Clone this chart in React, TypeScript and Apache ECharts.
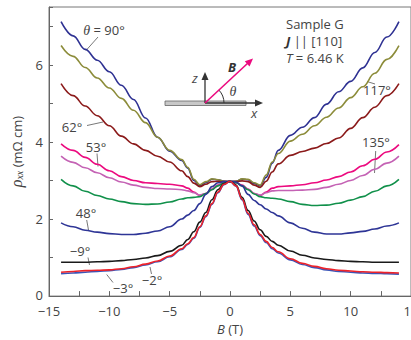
import React, { useEffect, useRef } from "react";
import * as echarts from "echarts";

// Magnetic field B (T)
const B = [-14, -13, -12, -11, -10, -9, -8, -7, -6, -5, -4, -3.5, -3, -2.5, -2, -1.5, -1, -0.5, 0, 0.5, 1, 1.5, 2, 2.5, 3, 3.5, 4, 5, 6, 7, 8, 9, 10, 11, 12, 13, 14];

// rho_xx (mOhm cm) for each angle
const rho90 = [7.12, 6.75, 6.40, 6.12, 5.82, 5.47, 5.10, 4.62, 4.12, 3.76, 3.52, 3.32, 3.00, 2.86, 2.94, 3.03, 3.02, 2.98, 2.97, 2.98, 3.03, 3.02, 2.92, 2.86, 3.08, 3.45, 3.78, 4.17, 4.38, 4.63, 4.98, 5.30, 5.57, 5.92, 6.32, 6.72, 7.12];
const rho117 = [6.50, 6.22, 5.93, 5.66, 5.40, 5.13, 4.82, 4.50, 4.12, 3.78, 3.54, 3.34, 3.03, 2.89, 2.97, 3.04, 3.02, 2.98, 2.97, 2.98, 3.04, 3.03, 2.94, 2.88, 3.14, 3.48, 3.70, 4.02, 4.20, 4.42, 4.64, 4.88, 5.15, 5.43, 5.78, 6.14, 6.50];
const rho62 = [5.51, 5.20, 4.93, 4.68, 4.42, 4.15, 3.95, 3.78, 3.63, 3.48, 3.25, 3.10, 2.93, 2.84, 2.90, 2.97, 2.98, 2.97, 2.97, 2.97, 2.99, 2.97, 2.88, 2.82, 2.98, 3.22, 3.43, 3.65, 3.75, 3.84, 3.96, 4.10, 4.35, 4.63, 4.90, 5.20, 5.51];
const rho53 = [3.95, 3.78, 3.60, 3.42, 3.25, 3.10, 3.00, 2.94, 2.92, 2.90, 2.86, 2.80, 2.70, 2.61, 2.66, 2.78, 2.88, 2.94, 2.97, 2.94, 2.88, 2.78, 2.66, 2.61, 2.70, 2.80, 2.84, 2.86, 2.89, 2.94, 3.01, 3.10, 3.22, 3.38, 3.55, 3.74, 3.93];
const rho135 = [3.63, 3.47, 3.33, 3.20, 3.07, 2.96, 2.88, 2.82, 2.79, 2.78, 2.76, 2.73, 2.68, 2.62, 2.66, 2.77, 2.87, 2.94, 2.97, 2.94, 2.87, 2.77, 2.66, 2.62, 2.68, 2.73, 2.74, 2.74, 2.75, 2.77, 2.82, 2.90, 3.00, 3.13, 3.29, 3.45, 3.63];
const rhoGreen = [3.03, 2.86, 2.72, 2.61, 2.52, 2.45, 2.40, 2.38, 2.39, 2.44, 2.52, 2.55, 2.56, 2.58, 2.66, 2.76, 2.86, 2.94, 2.97, 2.94, 2.86, 2.76, 2.65, 2.58, 2.55, 2.54, 2.52, 2.45, 2.38, 2.35, 2.36, 2.41, 2.49, 2.58, 2.72, 2.86, 3.03];
const rho48 = [1.90, 1.80, 1.71, 1.66, 1.62, 1.60, 1.60, 1.63, 1.69, 1.80, 2.00, 2.10, 2.22, 2.40, 2.64, 2.84, 2.94, 2.97, 2.98, 2.96, 2.86, 2.64, 2.48, 2.37, 2.26, 2.17, 2.08, 1.90, 1.76, 1.66, 1.61, 1.61, 1.64, 1.68, 1.74, 1.82, 1.90];
const rhoM9 = [0.88, 0.88, 0.88, 0.89, 0.90, 0.92, 0.95, 0.99, 1.05, 1.16, 1.32, 1.47, 1.67, 1.92, 2.17, 2.50, 2.76, 2.92, 2.98, 2.88, 2.56, 2.22, 1.95, 1.72, 1.55, 1.42, 1.32, 1.17, 1.06, 0.99, 0.95, 0.92, 0.90, 0.89, 0.88, 0.88, 0.88];
const rhoM3 = [0.58, 0.60, 0.62, 0.64, 0.66, 0.69, 0.74, 0.81, 0.89, 1.02, 1.21, 1.34, 1.50, 1.78, 2.06, 2.38, 2.68, 2.89, 2.98, 2.85, 2.50, 2.12, 1.82, 1.57, 1.39, 1.23, 1.12, 0.94, 0.82, 0.74, 0.68, 0.64, 0.62, 0.60, 0.59, 0.58, 0.57];
const rhoM2 = [0.62, 0.64, 0.66, 0.67, 0.68, 0.71, 0.76, 0.83, 0.91, 1.04, 1.23, 1.36, 1.52, 1.80, 2.08, 2.40, 2.70, 2.90, 2.98, 2.86, 2.52, 2.15, 1.85, 1.60, 1.42, 1.26, 1.15, 0.97, 0.85, 0.77, 0.71, 0.67, 0.65, 0.63, 0.62, 0.61, 0.60];

const seriesNames = ["90°", "117°", "62°", "53°", "135°", "green", "48°", "−9°", "−3°", "−2°"];
const seriesValues = [rho90, rho117, rho62, rho53, rho135, rhoGreen, rho48, rhoM9, rhoM3, rhoM2];
const seriesColors = ["#2e3192", "#8c8c3a", "#8b1a1a", "#ec0a7f", "#c462b4", "#10904a", "#2e3596", "#1a1a1a", "#3b55b8", "#ee2229"];

const xTicks = [-15, -10, -5, 0, 5, 10, 15];
const yTickLabels = ["0", "2", "4", "6"];

const SANS = "'Open Sans', 'Noto Sans', sans-serif";
const SERIF = "'Liberation Serif', 'DejaVu Serif', serif";
const TXT = "#444";
const LINE = "#555";

function label(text: string, x: number, y: number, align = "center", rich?: any) {
  return {
    type: "text",
    x,
    y,
    silent: true,
    style: {
      text,
      fill: TXT,
      fontSize: 13,
      fontFamily: SANS,
      align,
      verticalAlign: "middle",
      rich,
    },
  };
}

function leader(x1: number, y1: number, x2: number, y2: number, color = LINE, lw = 0.8) {
  return {
    type: "line",
    silent: true,
    shape: { x1, y1, x2, y2 },
    style: { stroke: color, lineWidth: lw },
  };
}

function arrowHead(tipX: number, tipY: number, fromX: number, fromY: number, color: string, len = 8, half = 3.5) {
  const dx = tipX - fromX;
  const dy = tipY - fromY;
  const l = Math.hypot(dx, dy);
  const ux = dx / l;
  const uy = dy / l;
  const bx = tipX - ux * len;
  const by = tipY - uy * len;
  const px = -uy * half;
  const py = ux * half;
  return {
    type: "polygon",
    silent: true,
    shape: { points: [[tipX, tipY], [bx + px, by + py], [bx - px, by - py]] },
    style: { fill: color },
  };
}

export default function App() {
  const ref = useRef<HTMLDivElement>(null);

  useEffect(() => {
    const chart = echarts.init(ref.current!, null, { renderer: "svg" });

    const series = seriesNames.map((name, i) => ({
      name,
      type: "line",
      data: B.map((b, j) => [b, seriesValues[i][j]]),
      showSymbol: false,
      smooth: 0.4,
      smoothMonotone: "x",
      lineStyle: { color: seriesColors[i], width: 1.6 },
      itemStyle: { color: seriesColors[i] },
      z: 2 + i,
    }));

    const italicSerif = { fontStyle: "italic", fontFamily: SERIF, fontSize: 14, fill: TXT, color: TXT };

    const graphic: any[] = [
      // inset sketch
      {
        type: "rect",
        silent: true,
        shape: { x: 165, y: 101, width: 81, height: 4.5 },
        style: { fill: "#c8c8c8", stroke: "#666", lineWidth: 0.8 },
      },
      leader(205, 103, 205, 80, "#333", 1.3),
      arrowHead(205, 72, 205, 103, "#333"),
      leader(205, 103, 255, 103, "#333", 1.3),
      arrowHead(263, 103, 205, 103, "#333"),
      {
        type: "arc",
        silent: true,
        shape: { cx: 205, cy: 103, r: 19, startAngle: -0.75, endAngle: 0, clockwise: true },
        style: { stroke: "#333", lineWidth: 1, fill: "none" },
      },
      leader(205, 103, 248, 63, "#ec0a7f", 1.6),
      arrowHead(253, 58.5, 205, 103, "#ec0a7f"),
      {
        type: "text", x: 195, y: 78, silent: true,
        style: { text: "z", fill: TXT, fontSize: 13, fontFamily: SANS, fontStyle: "italic", align: "center", verticalAlign: "middle" },
      },
      {
        type: "text", x: 254, y: 113, silent: true,
        style: { text: "x", fill: TXT, fontSize: 13, fontFamily: SANS, fontStyle: "italic", align: "center", verticalAlign: "middle" },
      },
      {
        type: "text", x: 232, y: 67, silent: true,
        style: { text: "B", fill: "#333", fontSize: 13, fontFamily: SANS, fontStyle: "italic", fontWeight: "bold", align: "center", verticalAlign: "middle" },
      },
      {
        type: "text", x: 233, y: 91, silent: true,
        style: { text: "θ", fill: TXT, fontSize: 14, fontFamily: SERIF, fontStyle: "italic", align: "center", verticalAlign: "middle" },
      },

      // sample info
      label("Sample G", 286, 24, "left"),
      label("{j|J} || [110]", 286, 41, "left", {
        j: { fontStyle: "italic", fontWeight: "bold", fontFamily: SANS, fontSize: 13, fill: "#333", color: "#333" },
      }),
      label("{t|T} = 6.46 K", 286, 58, "left", {
        t: { fontStyle: "italic", fontFamily: SANS, fontSize: 13, fill: TXT, color: TXT },
      }),

      // curve annotations
      label("{t|θ} = 90°", 104, 30, "center", { t: italicSerif }),
      leader(98, 37, 86, 50.5),
      label("62°", 72, 127),
      leader(87, 125.5, 103, 122),
      label("53°", 96, 147),
      leader(97, 153.5, 98, 166.5),
      label("48°", 86, 213),
      leader(86.7, 220, 88.5, 230),
      label("−9°", 80, 251),
      leader(88, 257.5, 89.5, 265),
      label("−3°", 123, 288),
      leader(106.7, 274.5, 113, 282.5),
      label("−2°", 152, 280),
      leader(150, 267, 151.5, 274),
      label("117°", 377, 90),
      leader(367, 81.5, 375, 84),
      label("135°", 376, 142),
      leader(375.7, 151, 374.5, 173),
    ];

    const option: any = {
      animation: false,
      backgroundColor: "#fff",
      grid: {
        left: 49,
        top: 7,
        right: 19,
        bottom: 40,
        show: true,
        borderColor: "#777",
        borderWidth: 1,
        backgroundColor: "transparent",
      },
      xAxis: {
        type: "value",
        min: xTicks[0],
        max: xTicks[xTicks.length - 1],
        interval: 5,
        name: "{b|B} (T)",
        nameLocation: "middle",
        nameGap: 25,
        nameTextStyle: {
          color: TXT,
          fontSize: 13,
          fontFamily: SANS,
          rich: { b: { fontStyle: "italic", fontSize: 13, fontFamily: SANS, color: TXT } },
        },
        axisLine: { show: true, onZero: false, lineStyle: { color: "#666", width: 1 } },
        axisTick: { show: true, inside: true, length: 5, lineStyle: { color: "#666" } },
        minorTick: { show: true, splitNumber: 2, length: 5, lineStyle: { color: "#666" } },
        splitLine: { show: false },
        axisLabel: {
          color: TXT,
          fontSize: 13,
          fontFamily: SANS,
          margin: 8,
          formatter: (v: number) => (v < 0 ? "−" + Math.abs(v) : String(v)),
        },
      },
      yAxis: {
        type: "value",
        min: 0,
        max: 7.5,
        interval: 1,
        name: "{r|ρ}{s|xx} (mΩ cm)",
        nameLocation: "middle",
        nameGap: 19,
        nameTextStyle: {
          color: TXT,
          fontSize: 13,
          fontFamily: SANS,
          rich: {
            r: { fontStyle: "italic", fontFamily: SERIF, fontSize: 16, color: TXT },
            s: { fontStyle: "italic", fontFamily: SERIF, fontSize: 10, color: TXT, verticalAlign: "bottom", padding: [6, 0, 0, 0] },
          },
        },
        axisLine: { show: true, onZero: false, lineStyle: { color: "#666", width: 1 } },
        axisTick: { show: true, inside: true, length: 4, lineStyle: { color: "#666" } },
        splitLine: { show: false },
        axisLabel: {
          color: TXT,
          fontSize: 13,
          fontFamily: SANS,
          margin: 6,
          formatter: (v: number) =>
            v === 0 ? "{z|0}" : yTickLabels.includes(String(v)) ? String(v) : "",
          rich: { z: { fontSize: 13, fontFamily: SANS, color: TXT, padding: [0, 0, 3, 0] } },
        },
      },
      series,
      graphic,
    };

    chart.setOption(option);
    return () => chart.dispose();
  }, []);

  return (
    <div
      style={{
        position: "fixed",
        left: 0,
        top: 0,
        width: 411,
        height: 340,
        overflow: "hidden",
        background: "#fff",
      }}
    >
      <div ref={ref} style={{ width: 430, height: 340 }} />
    </div>
  );
}
